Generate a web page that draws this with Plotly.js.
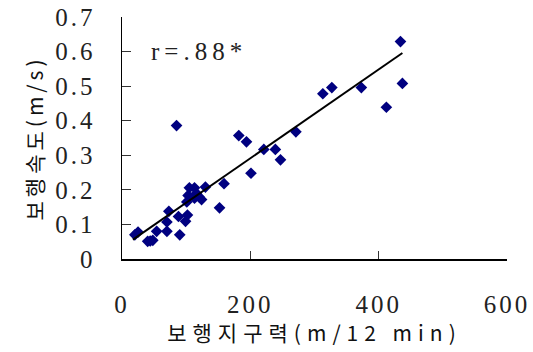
<!DOCTYPE html>
<html>
<head>
<meta charset="utf-8">
<script src="https://cdn.plot.ly/plotly-3.0.1.min.js"></script>
<style>
  html, body { margin: 0; padding: 0; background: #fff; }
  #chart { width: 533px; height: 352px; }
  .xtick text, .ytick text { letter-spacing: 3px; }
  .g-xtitle text { letter-spacing: 6px; }
  .g-ytitle text { letter-spacing: 4px; }
  .annotation-text { letter-spacing: 5px; }
</style>
</head>
<body>
<div id="chart"></div>
<script>
// Walking endurance (m/12 min) vs walking speed (m/s)
const enduranceX = [20, 25, 40, 44, 48, 54, 70, 70, 73, 88, 90, 99, 102, 101, 105, 113, 103, 116, 113, 124, 130, 120,
  152, 159, 201, 85, 182, 194, 221, 239, 247, 271, 313, 327, 373, 412, 434, 437];
const speedY = [0.070, 0.078, 0.051, 0.052, 0.054, 0.080, 0.080, 0.107, 0.138, 0.123, 0.070, 0.109, 0.127, 0.165, 0.206, 0.206, 0.184, 0.190, 0.176, 0.172, 0.208, 0.180,
  0.148, 0.218, 0.248, 0.386, 0.357, 0.339, 0.317, 0.317, 0.287, 0.368, 0.478, 0.496, 0.496, 0.439, 0.629, 0.508];

// Fitted trend line endpoints
const trendX = [17, 437];
const trendY = [0.056, 0.596];

const xTicks = [0, 200, 400, 600];
const yTicks = [0, 0.1, 0.2, 0.3, 0.4, 0.5, 0.6, 0.7];
const xTickText = ['0', '200', '400', '600'];
const yTickText = ['0', '0.1', '0.2', '0.3', '0.4', '0.5', '0.6', '0.7'];

const xTitle = '보행지구력(m/12 min)';
const yTitle = '보행속도(m/s)';
const corrLabel = 'r=.88*';

const numFont = 'Liberation Serif, DejaVu Serif, serif';
const korFont = 'Noto Sans CJK KR, Liberation Serif, serif';

const traces = [
  {
    x: enduranceX, y: speedY, type: 'scatter', mode: 'markers',
    marker: { symbol: 'diamond', color: '#000080', size: 9, line: { width: 0 } },
    hoverinfo: 'skip', showlegend: false
  },
  {
    x: trendX, y: trendY, type: 'scatter', mode: 'lines',
    line: { color: '#000000', width: 2 },
    hoverinfo: 'skip', showlegend: false
  }
];

const layout = {
  width: 533, height: 352,
  margin: { l: 122, r: 26, t: 17, b: 93, pad: 0 },
  paper_bgcolor: '#ffffff', plot_bgcolor: '#ffffff',
  showlegend: false,
  xaxis: {
    range: [0, 600], tickvals: xTicks, ticktext: xTickText,
    showgrid: false, zeroline: false, showline: true, linecolor: '#000', linewidth: 1.5,
    ticks: 'inside', ticklen: 8, tickwidth: 1, tickcolor: '#333',
    ticklabelstandoff: 22,
    tickfont: { family: numFont, size: 25, color: '#222' },
    title: { text: xTitle, font: { family: korFont, size: 21, color: '#111' }, standoff: 6 }
  },
  yaxis: {
    range: [0, 0.7], tickvals: yTicks, ticktext: yTickText,
    showgrid: false, zeroline: false, showline: true, linecolor: '#000', linewidth: 1.5,
    ticks: 'inside', ticklen: 9, tickwidth: 1, tickcolor: '#333',
    ticklabelstandoff: 20,
    tickfont: { family: numFont, size: 25, color: '#222' },
    title: { text: yTitle, font: { family: korFont, size: 21, color: '#111' }, standoff: 6 }
  },
  annotations: [{
    x: 42, y: 0.6, xref: 'x', yref: 'y', xanchor: 'left', yanchor: 'middle',
    text: corrLabel, showarrow: false,
    font: { family: numFont, size: 25, color: '#222' }
  }]
};

Plotly.newPlot('chart', traces, layout, { staticPlot: true, displayModeBar: false });
</script>
</body>
</html>
